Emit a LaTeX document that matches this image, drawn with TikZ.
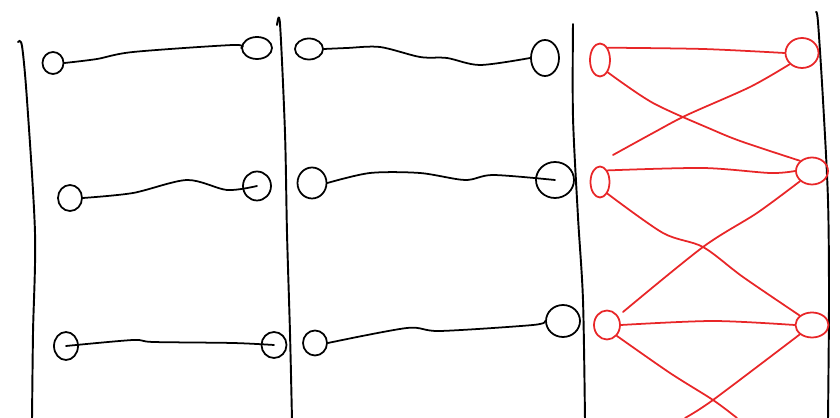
\documentclass[tikz,border=0pt]{standalone}
\usepackage{xcolor}
\usepackage{tikz}
\usetikzlibrary{shapes.geometric}
\definecolor{inkred}{RGB}{232,38,40}

\begin{document}
\begin{tikzpicture}[x=0.02cm, y=-0.02cm,
        knot/.style 2 args={ellipse, draw, inner sep=0pt, line width=1pt, minimum width=#1*0.02cm, minimum height=#2*0.02cm},
        redknot/.style 2 args={knot={#1}{#2}, draw=inkred},
        wire/.style={line width=1pt, line cap=round, line join=round},
        redwire/.style={wire, draw=inkred},
        rail/.style={line width=1.1pt, line cap=round}]
        \useasboundingbox (0,0) rectangle (840,418);

        % rails
        \draw [rail] plot[smooth] coordinates {(18,42) (22,46) (27,100) (35,233) (33,333) (32,420)};
        \draw [rail] plot[smooth] coordinates {(277,25) (280,24) (285,133) (287,233) (290,333) (292,420)};
        \draw [rail] plot[smooth] coordinates {(573,24) (573,117) (578,217) (583,300) (585,420)};
        \draw [rail] plot[smooth] coordinates {(816,12) (818,22) (823,100) (828,200) (829,300) (828,420)};

        % first column
        \node [knot={21}{22}] (l11) at (53,63) {};
        \node [knot={30}{22}] (r11) at (257,48) {};
        \node [knot={24}{26}] (l12) at (70,198) {};
        \node [knot={28}{29}] (r12) at (257,186) {};
        \node [knot={24}{28}] (l13) at (66,346) {};
        \node [knot={25}{26}] (r13) at (274,345) {};
        \draw [wire] plot[smooth] coordinates {(l11.east) (97,59) (133,52) (233,45) (r11.west)};
        \draw [wire] plot[smooth] coordinates {(l12.east) (133,193) (187,180) (227,190) (r12.center)};
        \draw [wire] plot[smooth] coordinates {(l13.center) (133,340) (153,342) (233,343) (r13.center)};

        % second column
        \node [knot={28}{21}] (l21) at (309,49) {};
        \node [knot={28}{36}] (r21) at (545,58) {};
        \node [knot={29}{31}] (l22) at (312,183) {};
        \node [knot={38}{36}] (r22) at (555,180) {};
        \node [knot={24}{25}] (l23) at (315,343) {};
        \node [knot={34}{32}] (r23) at (563,321) {};
        \draw [wire] plot[smooth] coordinates {(l21.east) (347,48) (380,47) (420,57) (447,58) (480,65) (r21.west)};
        \draw [wire] plot[smooth] coordinates {(l22.east) (370,173) (420,173) (465,180) (493,175) (r22.center)};
        \draw [wire] plot[smooth] coordinates {(l23.east) (407,328) (440,331) (533,325) (r23.west)};

        % third column
        \node [redknot={20}{33}] (l31) at (600,60) {};
        \node [redknot={33}{30}] (r31) at (802,53) {};
        \node [redknot={19}{31}] (l32) at (600,182) {};
        \node [redknot={32}{27}] (r32) at (812,171) {};
        \node [redknot={26}{29}] (l33) at (607,325) {};
        \node [redknot={33}{25}] (r33) at (812,325) {};
        \coordinate (tail1) at (613,155);
        \coordinate (tail2) at (623,312);
        \coordinate (tail3) at (737,418);
        \coordinate (tail4) at (685,418);
        \draw [redwire] plot[smooth] coordinates {(l31.north east) (703,49) (r31.west)};
        \draw [redwire] plot[smooth] coordinates {(l31.south east) (653,103) (713,130) (743,142) (r32.north west)};
        \draw [redwire] plot[smooth] coordinates {(r31.south west) (750,87) (687,115) (653,133) (tail1)};
        \draw [redwire] plot[smooth] coordinates {(l32.north east) (703,168) (770,173) (r32.west)};
        \draw [redwire] plot[smooth] coordinates {(l32.south east) (663,233) (703,247) (743,277) (r33.north west)};
        \draw [redwire] plot[smooth] coordinates {(r32.south west) (757,213) (703,247) (tail2)};
        \draw [redwire] plot[smooth] coordinates {(l33.east) (713,321) (r33.west)};
        \draw [redwire] plot[smooth] coordinates {(l33.south east) (670,373) (713,400) (tail3)};
        \draw [redwire] plot[smooth] coordinates {(r33.south west) (713,400) (tail4)};
    \end{tikzpicture}
\end{document}
